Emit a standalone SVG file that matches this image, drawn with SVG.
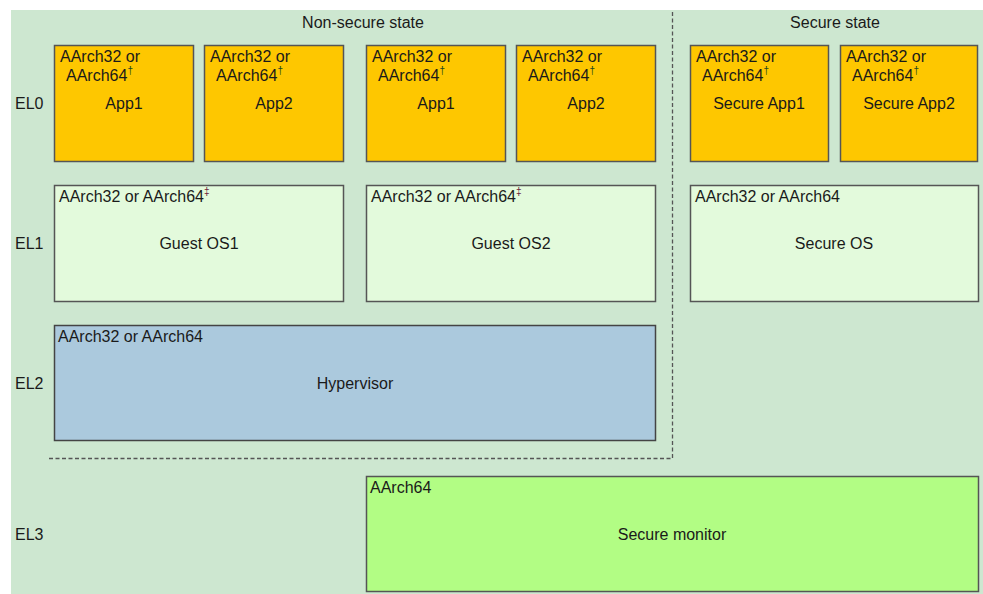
<svg xmlns="http://www.w3.org/2000/svg" width="983" height="594" viewBox="0 0 983 594">
<style>
text{font-family:"Liberation Sans",Arial,sans-serif;fill:#1a1a1a;font-size:16px}
.c{text-anchor:middle}
.app{fill:#fec700;stroke:#555;stroke-width:1.5}
.os{fill:#e3fadc;stroke:#555;stroke-width:1.5}
.hyp{fill:#abc9dd;stroke:#444;stroke-width:1.5}
.mon{fill:#b2fd84;stroke:#555;stroke-width:1.5}
.dash{fill:none;stroke:#555;stroke-width:1.3;stroke-dasharray:4 2.5}
.sup{font-size:10px}
.dg{fill:#1d4a1d}
.dd{fill:#6a1a3a}
</style>
<rect x="11" y="10" width="972" height="584" fill="#cde7d0"/>
<text class="c" x="363" y="28">Non-secure state</text>
<text class="c" x="835" y="28">Secure state</text>
<text x="15" y="109">EL0</text>
<text x="15" y="249">EL1</text>
<text x="15" y="389">EL2</text>
<text x="15" y="540">EL3</text>
<g id="ns-app1"><rect class="app" x="54.5" y="45.5" width="139" height="116"/><text x="60" y="62">AArch32 or</text><text x="66" y="81">AArch64<tspan class="sup dg" dy="-7">†</tspan></text><text class="c" x="124" y="109">App1</text></g>
<g id="ns-app2"><rect class="app" x="204.5" y="45.5" width="139" height="116"/><text x="210" y="62">AArch32 or</text><text x="216" y="81">AArch64<tspan class="sup dg" dy="-7">†</tspan></text><text class="c" x="274" y="109">App2</text></g>
<g id="ns-app1b"><rect class="app" x="366.5" y="45.5" width="139" height="116"/><text x="372" y="62">AArch32 or</text><text x="378" y="81">AArch64<tspan class="sup dg" dy="-7">†</tspan></text><text class="c" x="436" y="109">App1</text></g>
<g id="ns-app2b"><rect class="app" x="516.5" y="45.5" width="139" height="116"/><text x="522" y="62">AArch32 or</text><text x="528" y="81">AArch64<tspan class="sup dg" dy="-7">†</tspan></text><text class="c" x="586" y="109">App2</text></g>
<g id="s-app1"><rect class="app" x="690.5" y="45.5" width="138" height="116"/><text x="696" y="62">AArch32 or</text><text x="702" y="81">AArch64<tspan class="sup dg" dy="-7">†</tspan></text><text class="c" x="759" y="109">Secure App1</text></g>
<g id="s-app2"><rect class="app" x="840.5" y="45.5" width="137" height="116"/><text x="846" y="62">AArch32 or</text><text x="852" y="81">AArch64<tspan class="sup dg" dy="-7">†</tspan></text><text class="c" x="909" y="109">Secure App2</text></g>
<g id="guest-os1"><rect class="os" x="54.5" y="185.5" width="289" height="116"/><text x="59" y="202">AArch32 or AArch64<tspan class="sup dd" dy="-7">‡</tspan></text><text class="c" x="199" y="249">Guest OS1</text></g>
<g id="guest-os2"><rect class="os" x="366.5" y="185.5" width="289" height="116"/><text x="371" y="202">AArch32 or AArch64<tspan class="sup dd" dy="-7">‡</tspan></text><text class="c" x="511" y="249">Guest OS2</text></g>
<g id="secure-os"><rect class="os" x="690.5" y="185.5" width="288" height="116"/><text x="695" y="202">AArch32 or AArch64</text><text class="c" x="834" y="249">Secure OS</text></g>
<g id="hypervisor"><rect class="hyp" x="54.5" y="325.5" width="601" height="115"/><text x="58" y="342">AArch32 or AArch64</text><text class="c" x="355" y="389">Hypervisor</text></g>
<g id="secure-monitor"><rect class="mon" x="366.5" y="476.5" width="612" height="115"/><text x="370" y="493">AArch64</text><text class="c" x="672" y="540">Secure monitor</text></g>
<g id="connectors"><path class="dash" d="M672.5 12 V458.5 H48"/></g>
</svg>
